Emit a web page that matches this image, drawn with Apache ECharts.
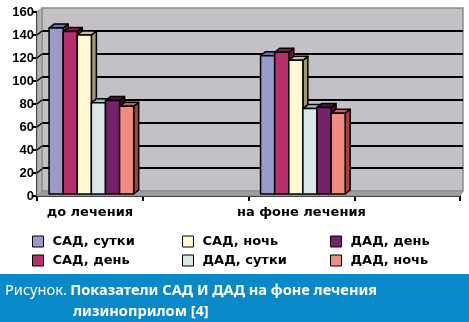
<!DOCTYPE html>
<html>
<head>
<meta charset="utf-8">
<script src="https://cdn.jsdelivr.net/npm/echarts@6/dist/echarts.min.js"></script>
<style>html,body{margin:0;padding:0;background:#fff;}#c{width:469px;height:322px;}</style>
</head>
<body>
<div id="c"></div>
<script>
var categories = ['до лечения', ' ', 'на фоне лечения', '  '];
var seriesNames = ['САД, сутки', 'САД, день', 'САД, ночь', 'ДАД, сутки', 'ДАД, день', 'ДАД, ночь'];
var sadSutki = [146, 122];
var sadDen = [143, 125];
var sadNoch = [140, 118];
var dadSutki = [81, 76];
var dadDen = [83, 77];
var dadNoch = [78, 72];
var yTicks = [0, 20, 40, 60, 80, 100, 120, 140, 160];
var groupIndex = [0, 2];

var values = [sadSutki, sadDen, sadNoch, dadSutki, dadDen, dadNoch];
var colors = ['#9a9acb', '#b8306b', '#fff8d2', '#dae8e9', '#74226a', '#f08c80'];
var topColors = ['#6f6fa8', '#7c1a48', '#c8c39a', '#8fc3c8', '#4e1246', '#c8605a'];
var sideColors = ['#5a5a8c', '#6a1238', '#9c9878', '#7aa8ae', '#3e0c38', '#a04440'];
var DX = 5, DY = 4;
var FONT = '"Liberation Sans", Arial, sans-serif';
var WFONT = '"DejaVu Sans", sans-serif';

function makeRender(si) {
  return function (params, api) {
    var ci = api.value(0), v = api.value(1);
    var top = api.coord([ci, v]);
    var base = api.coord([ci, 0]);
    var band = api.size([1, 0])[0];
    var gw = band * 0.8;
    var bw = gw / 6;
    var x0 = top[0] - gw / 2 + si * bw + 1.5;
    var x1 = x0 + bw;
    var yT = top[1], yB = base[1] - 2;
    var st = {stroke: '#000', lineWidth: 1.5, lineJoin: 'round'};
    return {
      type: 'group',
      children: [
        {type: 'polygon', shape: {points: [[x1, yT], [x1 + DX, yT - DY], [x1 + DX, yB - DY], [x1, yB]]},
          style: Object.assign({fill: sideColors[si]}, st)},
        {type: 'polygon', shape: {points: [[x0, yT], [x1, yT], [x1 + DX, yT - DY], [x0 + DX, yT - DY]]},
          style: Object.assign({fill: topColors[si]}, st)},
        {type: 'rect', shape: {x: x0, y: yT, width: bw, height: yB - yT},
          style: Object.assign({fill: colors[si]}, st)}
      ]
    };
  };
}

var series = seriesNames.map(function (name, si) {
  return {
    name: name,
    type: 'custom',
    xAxisIndex: 0, yAxisIndex: 0,
    renderItem: makeRender(si),
    itemStyle: {color: colors[si], borderColor: '#000', borderWidth: 1},
    encode: {x: 0, y: 1},
    data: values[si].map(function (v, k) { return [groupIndex[k], v]; }),
    z: 3
  };
});

// left wall diagonal tick connectors
series.push({
  type: 'custom',
  xAxisIndex: 0, yAxisIndex: 0,
  silent: true,
  renderItem: function (params, api) {
    var p = api.coord([0, api.value(0)]);
    var x = params.coordSys.x;
    return {type: 'line', shape: {x1: x, y1: p[1], x2: x + DX, y2: p[1] - DY},
      style: {stroke: '#000', lineWidth: 1.5}};
  },
  data: yTicks.slice(1, 8).map(function (t) { return [t]; }),
  encode: {y: 0},
  z: 2
});

var legendBase = {
  orient: 'vertical',
  itemWidth: 11, itemHeight: 11, itemGap: 6,
  icon: 'rect',
  itemStyle: {borderColor: '#000', borderWidth: 1},
  textStyle: {fontFamily: WFONT, fontWeight: 'bold', fontSize: 13, color: '#000', padding: [0, 0, 0, 4]},
  top: 235, padding: 0
};

var chart = echarts.init(document.getElementById('c'), null, {renderer: 'canvas'});
chart.setOption({
  animation: false,
  backgroundColor: '#fff',
  grid: [
    {left: 37, right: 9, top: 12, bottom: 126, show: false},
    {left: 42, right: 6, top: 8, bottom: 131, show: true, backgroundColor: '#c3c1c5', borderColor: '#8a8a8a', borderWidth: 1.5, z: 0}
  ],
  xAxis: [
    {type: 'category', gridIndex: 0, data: categories, boundaryGap: true,
      axisLine: {lineStyle: {color: '#000', width: 2}},
      axisTick: {show: true, interval: 0, length: 5, lineStyle: {color: '#000', width: 2}},
      axisLabel: {interval: 0, margin: 10, fontFamily: WFONT, fontWeight: 'bold', fontSize: 13, color: '#000'},
      splitLine: {show: false}},
    {type: 'category', gridIndex: 1, data: categories, show: false}
  ],
  yAxis: [
    {type: 'value', gridIndex: 0, min: 0, max: 160, interval: 20,
      axisLine: {show: true, lineStyle: {color: '#000', width: 2}},
      axisTick: {show: true, length: 4, lineStyle: {color: '#000', width: 2}},
      axisLabel: {margin: 3, fontFamily: FONT, fontWeight: 'bold', fontSize: 13, color: '#000'},
      splitLine: {show: false}},
    {type: 'value', gridIndex: 1, min: 0, max: 160, interval: 20,
      axisLine: {show: false}, axisTick: {show: false}, axisLabel: {show: false},
      splitLine: {show: true, showMinLine: false, showMaxLine: false, lineStyle: {color: '#000', width: 2}}}
  ],
  legend: [
    Object.assign({}, legendBase, {left: 32, data: [seriesNames[0], seriesNames[1]]}),
    Object.assign({}, legendBase, {left: 182, data: [seriesNames[2], seriesNames[3]]}),
    Object.assign({}, legendBase, {left: 330, data: [seriesNames[4], seriesNames[5]]})
  ],
  graphic: [
    {type: 'polygon', shape: {points: [[37, 12], [42, 8], [42, 191], [37, 196]]},
      style: {fill: '#b2b1b5', stroke: '#8a8a8a', lineWidth: 1}, z: 1},
    {type: 'polygon', shape: {points: [[37, 196], [42, 191], [463, 191], [460, 196]]},
      style: {fill: '#9e9da1', stroke: '#8a8a8a', lineWidth: 1}, z: 1},
    {type: 'rect', shape: {x: 0, y: 274, width: 469, height: 48}, style: {fill: '#0a89c8'}, z: 1},
    {type: 'text', left: 5, top: 283,
      style: {text: '{r|Рисунок.} {b|Показатели САД И ДАД на фоне лечения}', fill: '#fff',
        rich: {r: {fontFamily: '"Noto Sans", sans-serif', fontSize: 14.6, fill: '#fff'},
               b: {fontFamily: '"Noto Sans", sans-serif', fontSize: 14.6, fontWeight: 'bold', fill: '#fff'}}}, z: 2},
    {type: 'text', left: 73, top: 304,
      style: {text: 'лизиноприлом [4]', fill: '#fff', fontFamily: '"Noto Sans", sans-serif', fontSize: 14.6, fontWeight: 'bold'}, z: 2}
  ],
  series: series
});
</script>
</body>
</html>
